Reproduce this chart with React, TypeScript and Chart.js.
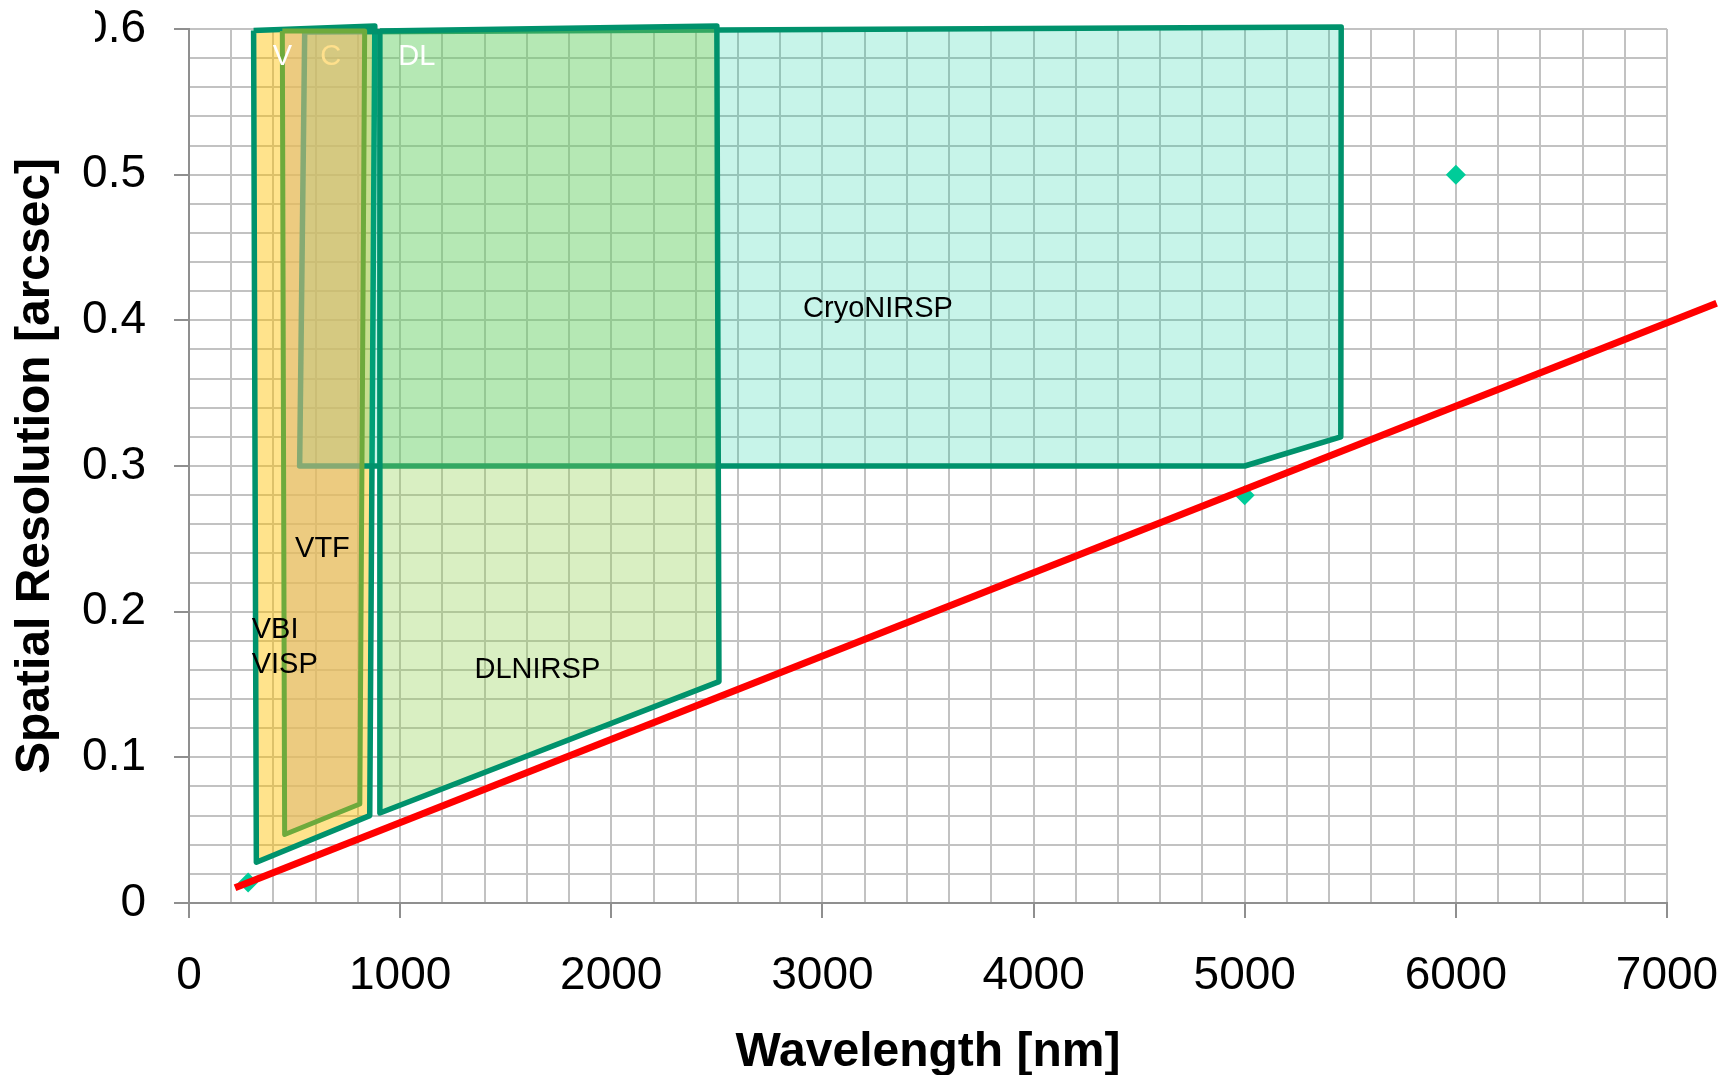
import React, { useEffect, useRef } from 'react';
import { Chart, registerables } from 'chart.js';

Chart.register(...registerables);

// ---------- data ----------
// instrument coverage polygons: wavelength [nm] vs spatial resolution [arcsec]
const vbiX = [306, 880, 856, 319, 306];
const vbiY = [0.599, 0.602, 0.060, 0.028, 0.599];

const cryoX = [548, 5457, 5455, 5000, 524, 548];
const cryoY = [0.598, 0.6014, 0.32, 0.3, 0.3, 0.598];

const dlX = [904, 2500, 2510, 904, 904];
const dlY = [0.5986, 0.602, 0.152, 0.0618, 0.5986];

const vtfX = [442, 832, 809, 453, 442];
const vtfY = [0.5986, 0.5986, 0.068, 0.047, 0.5986];

// diamond markers
const markerX = [280, 5000, 6000];
const markerY = [0.014, 0.28, 0.5];

// red diffraction-limit line
const limitX = [218, 7235];
const limitY = [0.0105, 0.4117];

// axis ranges / ticks
const xMin = 0;
const xMax = 7000;
const xStep = 200;
const xLabelEvery = 1000;
const yMin = 0;
const yMax = 0.6;
const yStep = 0.02;
const yLabelEvery = 0.1;

// in-plot text annotations (data coordinates)
const labelTexts = ['V', 'C', 'DL', 'CryoNIRSP', 'VTF', 'VBI', 'VISP', 'DLNIRSP'];
const labelX = [442, 671, 1079, 3263, 632, 297, 297, 1650];
const labelY = [0.5805, 0.5805, 0.5805, 0.408, 0.2427, 0.1871, 0.1631, 0.16];

// ---------- styles ----------
const FONT = "'Liberation Sans', Arial, Helvetica, sans-serif";
const DARK_GREEN = '#00926C';
const LIGHT_GREEN = '#6EAA3C';
const GRID = '#c2c2c2';
const AXIS = '#8f8f8f';

const labelStyle: Record<string, { color: string; align: CanvasTextAlign }> = {
  V: { color: '#ffffff', align: 'center' },
  C: { color: '#FFE08C', align: 'center' },
  DL: { color: '#ffffff', align: 'center' },
  CryoNIRSP: { color: '#000000', align: 'center' },
  VTF: { color: '#000000', align: 'center' },
  VBI: { color: '#000000', align: 'left' },
  VISP: { color: '#000000', align: 'left' },
  DLNIRSP: { color: '#000000', align: 'center' },
};

function pts(xs: number[], ys: number[]) {
  return xs.map((x, i) => ({ x, y: ys[i] }));
}

const isMultiple = (v: number, m: number) => {
  const r = v / m;
  return Math.abs(r - Math.round(r)) < 1e-6;
};

const labelsPlugin = {
  id: 'regionLabels',
  afterDatasetsDraw(chart: any) {
    const { ctx, scales } = chart;
    const xs = scales.x;
    const ys = scales.y;
    ctx.save();
    ctx.font = `29px ${FONT}`;
    ctx.textBaseline = 'middle';
    labelTexts.forEach((t, i) => {
      const st = labelStyle[t];
      ctx.fillStyle = st.color;
      ctx.textAlign = st.align;
      ctx.fillText(t, xs.getPixelForValue(labelX[i]), ys.getPixelForValue(labelY[i]));
    });
    ctx.restore();
  },
};

// the reference picture is cropped at its top-left corner
const cropPlugin = {
  id: 'cropCorner',
  afterDraw(chart: any) {
    const { ctx } = chart;
    ctx.save();
    ctx.fillStyle = '#ffffff';
    ctx.fillRect(0, 0, 95, 50);
    ctx.restore();
  },
};

function polygon(label: string, xs: number[], ys: number[], fillColor: string, line: string, width: number, order: number) {
  return {
    label,
    data: pts(xs, ys),
    showLine: true,
    fill: 'shape',
    backgroundColor: fillColor,
    borderColor: line,
    borderWidth: width,
    borderJoinStyle: 'round' as CanvasLineJoin,
    pointRadius: 0,
    pointHoverRadius: 0,
    tension: 0,
    clip: false as any,
    order,
  };
}

export default function App() {
  const ref = useRef<HTMLCanvasElement>(null);

  useEffect(() => {
    if (!ref.current) return;
    const chart = new Chart(ref.current, {
      type: 'scatter',
      data: {
        datasets: [
          polygon('VBI / VISP', vbiX, vbiY, 'rgba(255,192,0,0.45)', DARK_GREEN, 5.5, 6),
          polygon('CryoNIRSP', cryoX, cryoY, 'rgba(0,204,153,0.22)', DARK_GREEN, 5.5, 5),
          polygon('DLNIRSP', dlX, dlY, 'rgba(146,208,80,0.35)', DARK_GREEN, 5.5, 4),
          polygon('VTF', vtfX, vtfY, 'rgba(223,186,120,0.6)', LIGHT_GREEN, 5, 3),
          {
            label: 'points',
            data: pts(markerX, markerY),
            showLine: false,
            pointStyle: 'rectRot',
            pointRadius: 10,
            pointBackgroundColor: '#00CC99',
            pointBorderColor: '#00CC99',
            pointBorderWidth: 0,
            clip: false as any,
            order: 2,
          },
          {
            label: 'limit',
            data: pts(limitX, limitY),
            showLine: true,
            fill: false,
            borderColor: '#FF0000',
            borderWidth: 7,
            borderCapStyle: 'butt',
            pointRadius: 0,
            pointHoverRadius: 0,
            clip: false as any,
            order: 1,
          },
        ] as any,
      },
      options: {
        responsive: false,
        animation: false,
        devicePixelRatio: 1,
        events: [],
        layout: { autoPadding: false, padding: { left: 0, right: 58, top: 29, bottom: 0 } },
        plugins: {
          legend: { display: false },
          tooltip: { enabled: false },
        },
        scales: {
          x: {
            type: 'linear',
            min: xMin,
            max: xMax,
            afterFit: (s: any) => {
              s.height = 172;
              s.paddingLeft = 0;
              s.paddingRight = 0;
            },
            border: { display: true, color: AXIS, width: 2 },
            grid: {
              color: GRID,
              lineWidth: 2,
              drawTicks: true,
              tickLength: 15,
              tickWidth: 2,
              tickColor: (c: any) =>
                c.tick && isMultiple(c.tick.value, xLabelEvery) ? AXIS : 'rgba(0,0,0,0)',
            },
            ticks: {
              stepSize: xStep,
              autoSkip: false,
              maxRotation: 0,
              minRotation: 0,
              padding: 31,
              color: '#000',
              font: { size: 46, family: FONT },
              callback: (v: any) => (isMultiple(Number(v), xLabelEvery) ? String(Math.round(Number(v))) : ''),
            },
            title: {
              display: true,
              text: 'Wavelength [nm]',
              color: '#000',
              font: { size: 48, weight: 'bold', family: FONT, lineHeight: 1 },
              padding: { top: 0, bottom: -2 },
            },
          },
          y: {
            type: 'linear',
            min: yMin,
            max: yMax,
            afterFit: (s: any) => {
              s.width = 189;
              s.paddingTop = 0;
              s.paddingBottom = 0;
            },
            border: { display: true, color: AXIS, width: 2 },
            grid: {
              color: GRID,
              lineWidth: 2,
              drawTicks: true,
              tickLength: 15,
              tickWidth: 2,
              tickColor: (c: any) =>
                c.tick && isMultiple(c.tick.value, yLabelEvery) ? AXIS : 'rgba(0,0,0,0)',
            },
            ticks: {
              stepSize: yStep,
              autoSkip: false,
              padding: 28,
              color: '#000',
              font: { size: 46, family: FONT },
              callback: (v: any) => {
                const n = Number(v);
                return isMultiple(n, yLabelEvery) ? String(Math.round(n * 10) / 10) : '';
              },
            },
            title: {
              display: true,
              text: 'Spatial Resolution [arcsec]',
              color: '#000',
              font: { size: 48, weight: 'bold', family: FONT },
              padding: { top: 7, bottom: 0 },
            },
          },
        },
      } as any,
      plugins: [labelsPlugin, cropPlugin],
    });
    return () => chart.destroy();
  }, []);

  return (
    <div style={{ position: 'fixed', left: 0, top: 0, width: 1725, height: 1075, background: '#ffffff' }}>
      <canvas ref={ref} width={1725} height={1075} style={{ display: 'block', width: 1725, height: 1075 }} />
    </div>
  );
}
